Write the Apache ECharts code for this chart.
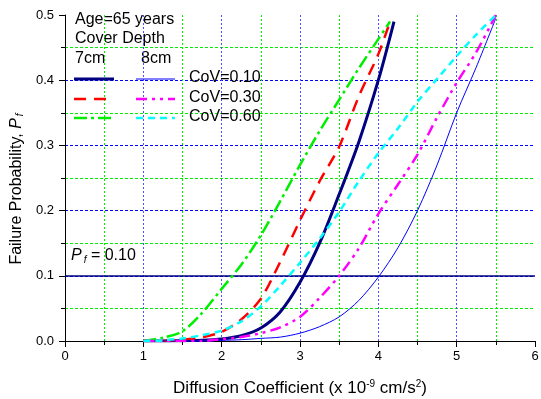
<!DOCTYPE html>
<html>
<head>
<meta charset="utf-8">
<script src="https://cdn.jsdelivr.net/npm/echarts@6/dist/echarts.min.js"></script>
<style>
  html, body { margin: 0; padding: 0; background: #fff; }
  #chart { width: 541px; height: 399px; }
</style>
</head>
<body>
<div id="chart"></div>
<script>
// Diffusion coefficient (x 10^-9 cm/s^2) sample points
const x7cm = [1.0, 1.25, 1.5, 1.75, 2.0, 2.25, 2.5, 2.75, 3.0, 3.25, 3.5, 3.75, 4.0];
const x8cm = [1.0, 1.25, 1.5, 1.75, 2.0, 2.25, 2.5, 2.75, 3.0, 3.25, 3.5, 3.75, 4.0, 4.25, 4.5, 4.75, 5.0, 5.25, 5.5];

// Failure probability, cover depth 7 cm
const x7cmCov10 = x7cm.concat([4.2]);
const pf7cmCov10 = [0, 0, 0.0005, 0.001, 0.003, 0.008, 0.02, 0.045, 0.09, 0.15, 0.225, 0.305, 0.4, 0.49];
const x7cmCov30 = x7cm.concat([4.15]);
const pf7cmCov30 = [0, 0.0005, 0.002, 0.006, 0.014, 0.033, 0.065, 0.122, 0.185, 0.245, 0.298, 0.375, 0.44, 0.49];
const x7cmCov60 = x7cm.concat([4.15]);
const pf7cmCov60 = [0, 0.005, 0.015, 0.043, 0.08, 0.117, 0.162, 0.215, 0.27, 0.322, 0.37, 0.418, 0.463, 0.49];

// Failure probability, cover depth 8 cm
const pf8cmCov10 = [0, 0, 0, 0, 0.001, 0.002, 0.004, 0.006, 0.012, 0.022, 0.037, 0.062, 0.098, 0.143, 0.2, 0.27, 0.35, 0.42, 0.495];
const pf8cmCov30 = [0, 0, 0, 0, 0.003, 0.006, 0.012, 0.021, 0.037, 0.066, 0.1, 0.142, 0.195, 0.24, 0.286, 0.343, 0.396, 0.443, 0.5];
const pf8cmCov60 = [0, 0.001, 0.004, 0.009, 0.016, 0.03, 0.053, 0.085, 0.12, 0.157, 0.198, 0.245, 0.288, 0.326, 0.367, 0.402, 0.437, 0.47, 0.5];

// Target failure probability reference line
const pfTarget = 0.10;

const xTicks = [0, 1, 2, 3, 4, 5, 6];
const yTicks = [0, 0.1, 0.2, 0.3, 0.4, 0.5];

const FONT = 'Liberation Sans, Arial, sans-serif';

function pairs(xs, ys) { return xs.map((x, i) => [x, ys[i]]); }

function curve(name, xs, ys, st) {
  return {
    name: name,
    type: 'line',
    data: pairs(xs, ys),
    showSymbol: false,
    smooth: 0.3,
    lineStyle: { color: st.color, width: st.width, type: st.dash, cap: 'butt' },
    z: 5
  };
}

const styles = {
  c7_10: { color: '#000080', width: 3, dash: 'solid' },
  c7_30: { color: '#ff0000', width: 2.5, dash: [12, 8] },
  c7_60: { color: '#00ee00', width: 2.5, dash: [13, 4, 3, 4] },
  c8_10: { color: '#0000ff', width: 1, dash: 'solid' },
  c8_30: { color: '#ff00ff', width: 2.5, dash: [11, 5, 3, 5, 3, 5] },
  c8_60: { color: '#00ffff', width: 2.5, dash: [7, 5] }
};

const chart = echarts.init(document.getElementById('chart'), null, { renderer: 'canvas' });

const series = [
  curve('7cm CoV=0.10', x7cmCov10, pf7cmCov10, styles.c7_10),
  curve('7cm CoV=0.30', x7cmCov30, pf7cmCov30, styles.c7_30),
  curve('7cm CoV=0.60', x7cmCov60, pf7cmCov60, styles.c7_60),
  curve('8cm CoV=0.10', x8cm, pf8cmCov10, styles.c8_10),
  curve('8cm CoV=0.30', x8cm, pf8cmCov30, styles.c8_30),
  curve('8cm CoV=0.60', x8cm, pf8cmCov60, styles.c8_60)
];

// Pf = 0.10 threshold drawn across the full width
series[0].markLine = {
  silent: true,
  symbol: ['none', 'none'],
  label: { show: false },
  lineStyle: { color: '#000080', width: 1.5, type: 'solid' },
  data: [{ yAxis: pfTarget }],
  z: 4
};

// Legend block: two sample columns (7cm / 8cm) sharing CoV labels
const legendRows = [
  { left: styles.c7_10, right: styles.c8_10, label: 'CoV=0.10', y: 79 },
  { left: styles.c7_30, right: styles.c8_30, label: 'CoV=0.30', y: 99 },
  { left: styles.c7_60, right: styles.c8_60, label: 'CoV=0.60', y: 118 }
];
const LFONT = '16px ' + FONT;
const graphics = [
  { type: 'text', left: 75, top: 12, style: { text: 'Age=65 years', font: LFONT, fill: '#000' } },
  { type: 'text', left: 75, top: 31, style: { text: 'Cover Depth', font: LFONT, fill: '#000' } },
  { type: 'text', left: 75, top: 51, style: { text: '7cm', font: LFONT, fill: '#000' } },
  { type: 'text', left: 141, top: 51, style: { text: '8cm', font: LFONT, fill: '#000' } }
];
legendRows.forEach(r => {
  graphics.push({ type: 'line', shape: { x1: 74, y1: r.y, x2: 114, y2: r.y },
    style: { stroke: r.left.color, lineWidth: r.left.width, lineDash: r.left.dash === 'solid' ? null : r.left.dash }, z: 10 });
  graphics.push({ type: 'line', shape: { x1: 136, y1: r.y, x2: 175, y2: r.y },
    style: { stroke: r.right.color, lineWidth: r.right.width, lineDash: r.right.dash === 'solid' ? null : r.right.dash }, z: 10 });
  graphics.push({ type: 'text', left: 189, top: r.y - 9, style: { text: r.label, font: LFONT, fill: '#000' }, z: 10 });
});
graphics.push({
  type: 'text', left: 71, top: 248, z: 10,
  style: {
    text: '{p|P}{s|f}{t| = 0.10}',
    rich: {
      p: { font: 'italic 16px ' + FONT, fill: '#000' },
      s: { font: 'italic 10px ' + FONT, fill: '#000', padding: [9, 0, 0, 2] },
      t: { font: '16px ' + FONT, fill: '#000' }
    }
  }
});

chart.setOption({
  backgroundColor: '#fff',
  animation: false,
  grid: { left: 65, right: 6, top: 15, bottom: 58, containLabel: false, outerBoundsMode: 'none' },
  xAxis: {
    type: 'value',
    min: xTicks[0], max: xTicks[xTicks.length - 1], interval: 1,
    name: '{a|Diffusion Coefficient (x 10}{u|-9}{a| cm/s}{u|2}{a|)}',
    nameLocation: 'middle',
    nameGap: 38,
    nameTextStyle: {
      rich: {
        a: { fontSize: 17, fontFamily: FONT, color: '#000', verticalAlign: 'bottom' },
        u: { fontSize: 10, fontFamily: FONT, color: '#000', verticalAlign: 'bottom', padding: [0, 0, 8, 0] }
      }
    },
    axisLine: { show: true, onZero: false, lineStyle: { color: '#000', width: 1 } },
    axisTick: { show: true, inside: false, length: 6, lineStyle: { color: '#000' } },
    minorTick: { show: true, splitNumber: 2, length: 4, lineStyle: { color: '#000' } },
    axisLabel: { color: '#000', fontSize: 13, fontFamily: FONT, margin: 9 },
    splitLine: { show: true, showMinLine: false, showMaxLine: false, lineStyle: { color: '#5050ff', width: 1, type: [2, 2] } },
    minorSplitLine: { show: true, lineStyle: { color: '#00ee00', width: 1, type: [2, 2] } }
  },
  yAxis: {
    type: 'value',
    min: yTicks[0], max: yTicks[yTicks.length - 1], interval: 0.1,
    name: '{a|Failure Probability, }{p|P}{s|f}',
    nameLocation: 'middle',
    nameGap: 35,
    nameRotate: 90,
    nameTextStyle: {
      padding: [0, 22, 0, 0],
      rich: {
        a: { fontSize: 16, fontFamily: FONT, color: '#000', verticalAlign: 'bottom' },
        p: { fontSize: 16, fontFamily: FONT, fontStyle: 'italic', color: '#000', verticalAlign: 'bottom' },
        s: { fontSize: 10, fontFamily: FONT, fontStyle: 'italic', color: '#000', verticalAlign: 'bottom', padding: [0, 0, 0, 2] }
      }
    },
    axisLine: { show: true, onZero: false, lineStyle: { color: '#000', width: 1 } },
    axisTick: { show: true, inside: false, length: 6, lineStyle: { color: '#000' } },
    minorTick: { show: true, splitNumber: 2, length: 4, lineStyle: { color: '#000' } },
    axisLabel: { color: '#000', fontSize: 13, fontFamily: FONT, margin: 11, formatter: v => v.toFixed(1) },
    splitLine: { show: true, showMinLine: false, showMaxLine: false, lineStyle: { color: '#0000ff', width: 1, type: [3, 2] } },
    minorSplitLine: { show: true, lineStyle: { color: '#00ee00', width: 1, type: [3, 2] } }
  },
  graphic: graphics,
  series: series
});
</script>
</body>
</html>
